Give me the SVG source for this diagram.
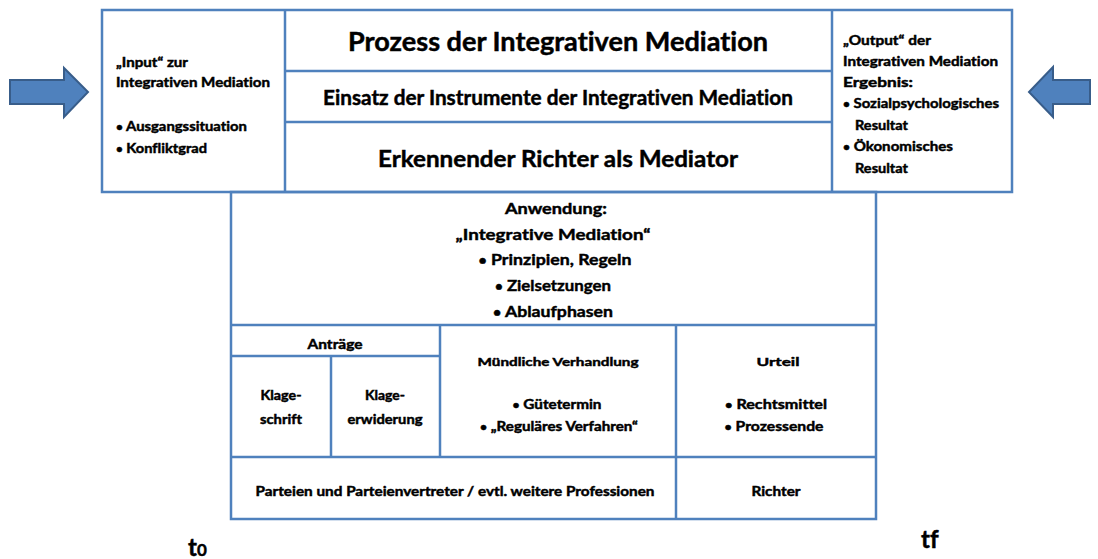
<svg xmlns="http://www.w3.org/2000/svg" width="1098" height="559" viewBox="0 0 1098 559">
<style>
.b{fill:none;stroke:#4F81BD;stroke-width:2.5}
.l{stroke:#4F81BD;stroke-width:2.5}
text{font-family:Lato,"Liberation Sans",sans-serif;font-weight:bold;fill:#000;stroke:#000;stroke-width:0.45;font-variant-ligatures:none}
.m{text-anchor:middle}
.bu{font-size:0.8em}
.arrow{fill:#4F81BD;stroke:#385D8A;stroke-width:2}
</style>
<rect width="1098" height="559" fill="#fff"/>
<g id="connectors">
<path id="arrow-left" class="arrow" d="M10,80 H64 V68 L88,92 L64,117 V104 H10 Z"/>
<path id="arrow-right" class="arrow" d="M1090,80 H1053 V67 L1029,92 L1053,117 V104 H1090 Z"/>
</g>
<g id="top-frame">
<rect class="b" x="102" y="10" width="910" height="182"/>
<line class="l" x1="285" y1="10" x2="285" y2="192"/>
<line class="l" x1="832" y1="10" x2="832" y2="192"/>
<line class="l" x1="285" y1="71" x2="832" y2="71"/>
<line class="l" x1="285" y1="122" x2="832" y2="122"/>
</g>
<g id="input">
<text x="116" y="67" font-size="13" textLength="72" lengthAdjust="spacingAndGlyphs">„Input“ zur</text>
<text x="116" y="87" font-size="13" textLength="154" lengthAdjust="spacingAndGlyphs">Integrativen Mediation</text>
<text x="116" y="131" font-size="13" textLength="131" lengthAdjust="spacingAndGlyphs"><tspan class="bu">•</tspan>  Ausgangssituation</text>
<text x="116" y="153" font-size="13" textLength="91" lengthAdjust="spacingAndGlyphs"><tspan class="bu">•</tspan>  Konfliktgrad</text>
</g>
<g id="prozess">
<text class="m" x="558" y="51" font-size="26" textLength="420" lengthAdjust="spacingAndGlyphs">Prozess der Integrativen Mediation</text>
</g>
<g id="einsatz">
<text class="m" x="558" y="105" font-size="20" textLength="470" lengthAdjust="spacingAndGlyphs">Einsatz der Instrumente der Integrativen Mediation</text>
</g>
<g id="richter-mediator">
<text class="m" x="558" y="167" font-size="23" textLength="360" lengthAdjust="spacingAndGlyphs">Erkennender Richter als Mediator</text>
</g>
<g id="output">
<text x="843" y="45" font-size="13" textLength="88" lengthAdjust="spacingAndGlyphs">„Output“ der</text>
<text x="843" y="66" font-size="13" textLength="155" lengthAdjust="spacingAndGlyphs">Integrativen Mediation</text>
<text x="843" y="87" font-size="13" textLength="70" lengthAdjust="spacingAndGlyphs">Ergebnis:</text>
<text x="843" y="108" font-size="13" textLength="156" lengthAdjust="spacingAndGlyphs"><tspan class="bu">•</tspan> Sozialpsychologisches</text>
<text x="855" y="130" font-size="13" textLength="53" lengthAdjust="spacingAndGlyphs">Resultat</text>
<text x="843" y="151" font-size="13" textLength="110" lengthAdjust="spacingAndGlyphs"><tspan class="bu">•</tspan> Ökonomisches</text>
<text x="855" y="173" font-size="13" textLength="53" lengthAdjust="spacingAndGlyphs">Resultat</text>
</g>
<g id="lower-frame">
<rect class="b" x="231" y="192" width="645" height="327"/>
<line class="l" x1="231" y1="325" x2="876" y2="325"/>
<line class="l" x1="231" y1="457" x2="876" y2="457"/>
<line class="l" x1="231" y1="356" x2="440" y2="356"/>
<line class="l" x1="331" y1="356" x2="331" y2="457"/>
<line class="l" x1="440" y1="325" x2="440" y2="457"/>
<line class="l" x1="676" y1="325" x2="676" y2="519"/>
</g>
<g id="anwendung">
<text class="m" x="556" y="214" font-size="16" textLength="102" lengthAdjust="spacingAndGlyphs">Anwendung:</text>
<text class="m" x="553" y="240" font-size="16" textLength="195" lengthAdjust="spacingAndGlyphs">„Integrative Mediation“</text>
<text class="m" x="555" y="265" font-size="16" textLength="153" lengthAdjust="spacingAndGlyphs"><tspan class="bu">•</tspan> Prinzipien, Regeln</text>
<text class="m" x="553" y="291" font-size="16" textLength="116" lengthAdjust="spacingAndGlyphs"><tspan class="bu">•</tspan> Zielsetzungen</text>
<text class="m" x="553" y="317" font-size="16" textLength="120" lengthAdjust="spacingAndGlyphs"><tspan class="bu">•</tspan> Ablaufphasen</text>
</g>
<g id="antraege">
<text class="m" x="335" y="349" font-size="13" textLength="55" lengthAdjust="spacingAndGlyphs">Anträge</text>
</g>
<g id="klageschrift">
<text class="m" x="281" y="400" font-size="13" textLength="41" lengthAdjust="spacingAndGlyphs">Klage-</text>
<text class="m" x="281" y="424" font-size="13" textLength="42" lengthAdjust="spacingAndGlyphs">schrift</text>
</g>
<g id="klageerwiderung">
<text class="m" x="385" y="400" font-size="13" textLength="40" lengthAdjust="spacingAndGlyphs">Klage-</text>
<text class="m" x="385" y="424" font-size="13" textLength="75" lengthAdjust="spacingAndGlyphs">erwiderung</text>
</g>
<g id="muendliche-verhandlung">
<text class="m" x="558" y="366" font-size="12" textLength="161" lengthAdjust="spacingAndGlyphs">Mündliche Verhandlung</text>
<text class="m" x="557" y="409" font-size="13" textLength="89" lengthAdjust="spacingAndGlyphs"><tspan class="bu">•</tspan> Gütetermin</text>
<text class="m" x="559" y="431" font-size="13" textLength="158" lengthAdjust="spacingAndGlyphs"><tspan class="bu">•</tspan>  „Reguläres Verfahren“</text>
</g>
<g id="urteil">
<text class="m" x="778" y="366" font-size="12" textLength="43" lengthAdjust="spacingAndGlyphs">Urteil</text>
<text class="m" x="776" y="409" font-size="13" textLength="102" lengthAdjust="spacingAndGlyphs"><tspan class="bu">•</tspan> Rechtsmittel</text>
<text class="m" x="774" y="431" font-size="13" textLength="99" lengthAdjust="spacingAndGlyphs"><tspan class="bu">•</tspan> Prozessende</text>
</g>
<g id="parteien">
<text class="m" x="455" y="496" font-size="13" textLength="399" lengthAdjust="spacingAndGlyphs">Parteien und Parteienvertreter / evtl. weitere Professionen</text>
</g>
<g id="richter">
<text class="m" x="776" y="496" font-size="13" textLength="49" lengthAdjust="spacingAndGlyphs">Richter</text>
</g>
<g id="time-labels">
<text x="188" y="556" font-size="24">t<tspan font-size="17">0</tspan></text>
<text x="921" y="548" font-size="24">tf</text>
</g>
</svg>
